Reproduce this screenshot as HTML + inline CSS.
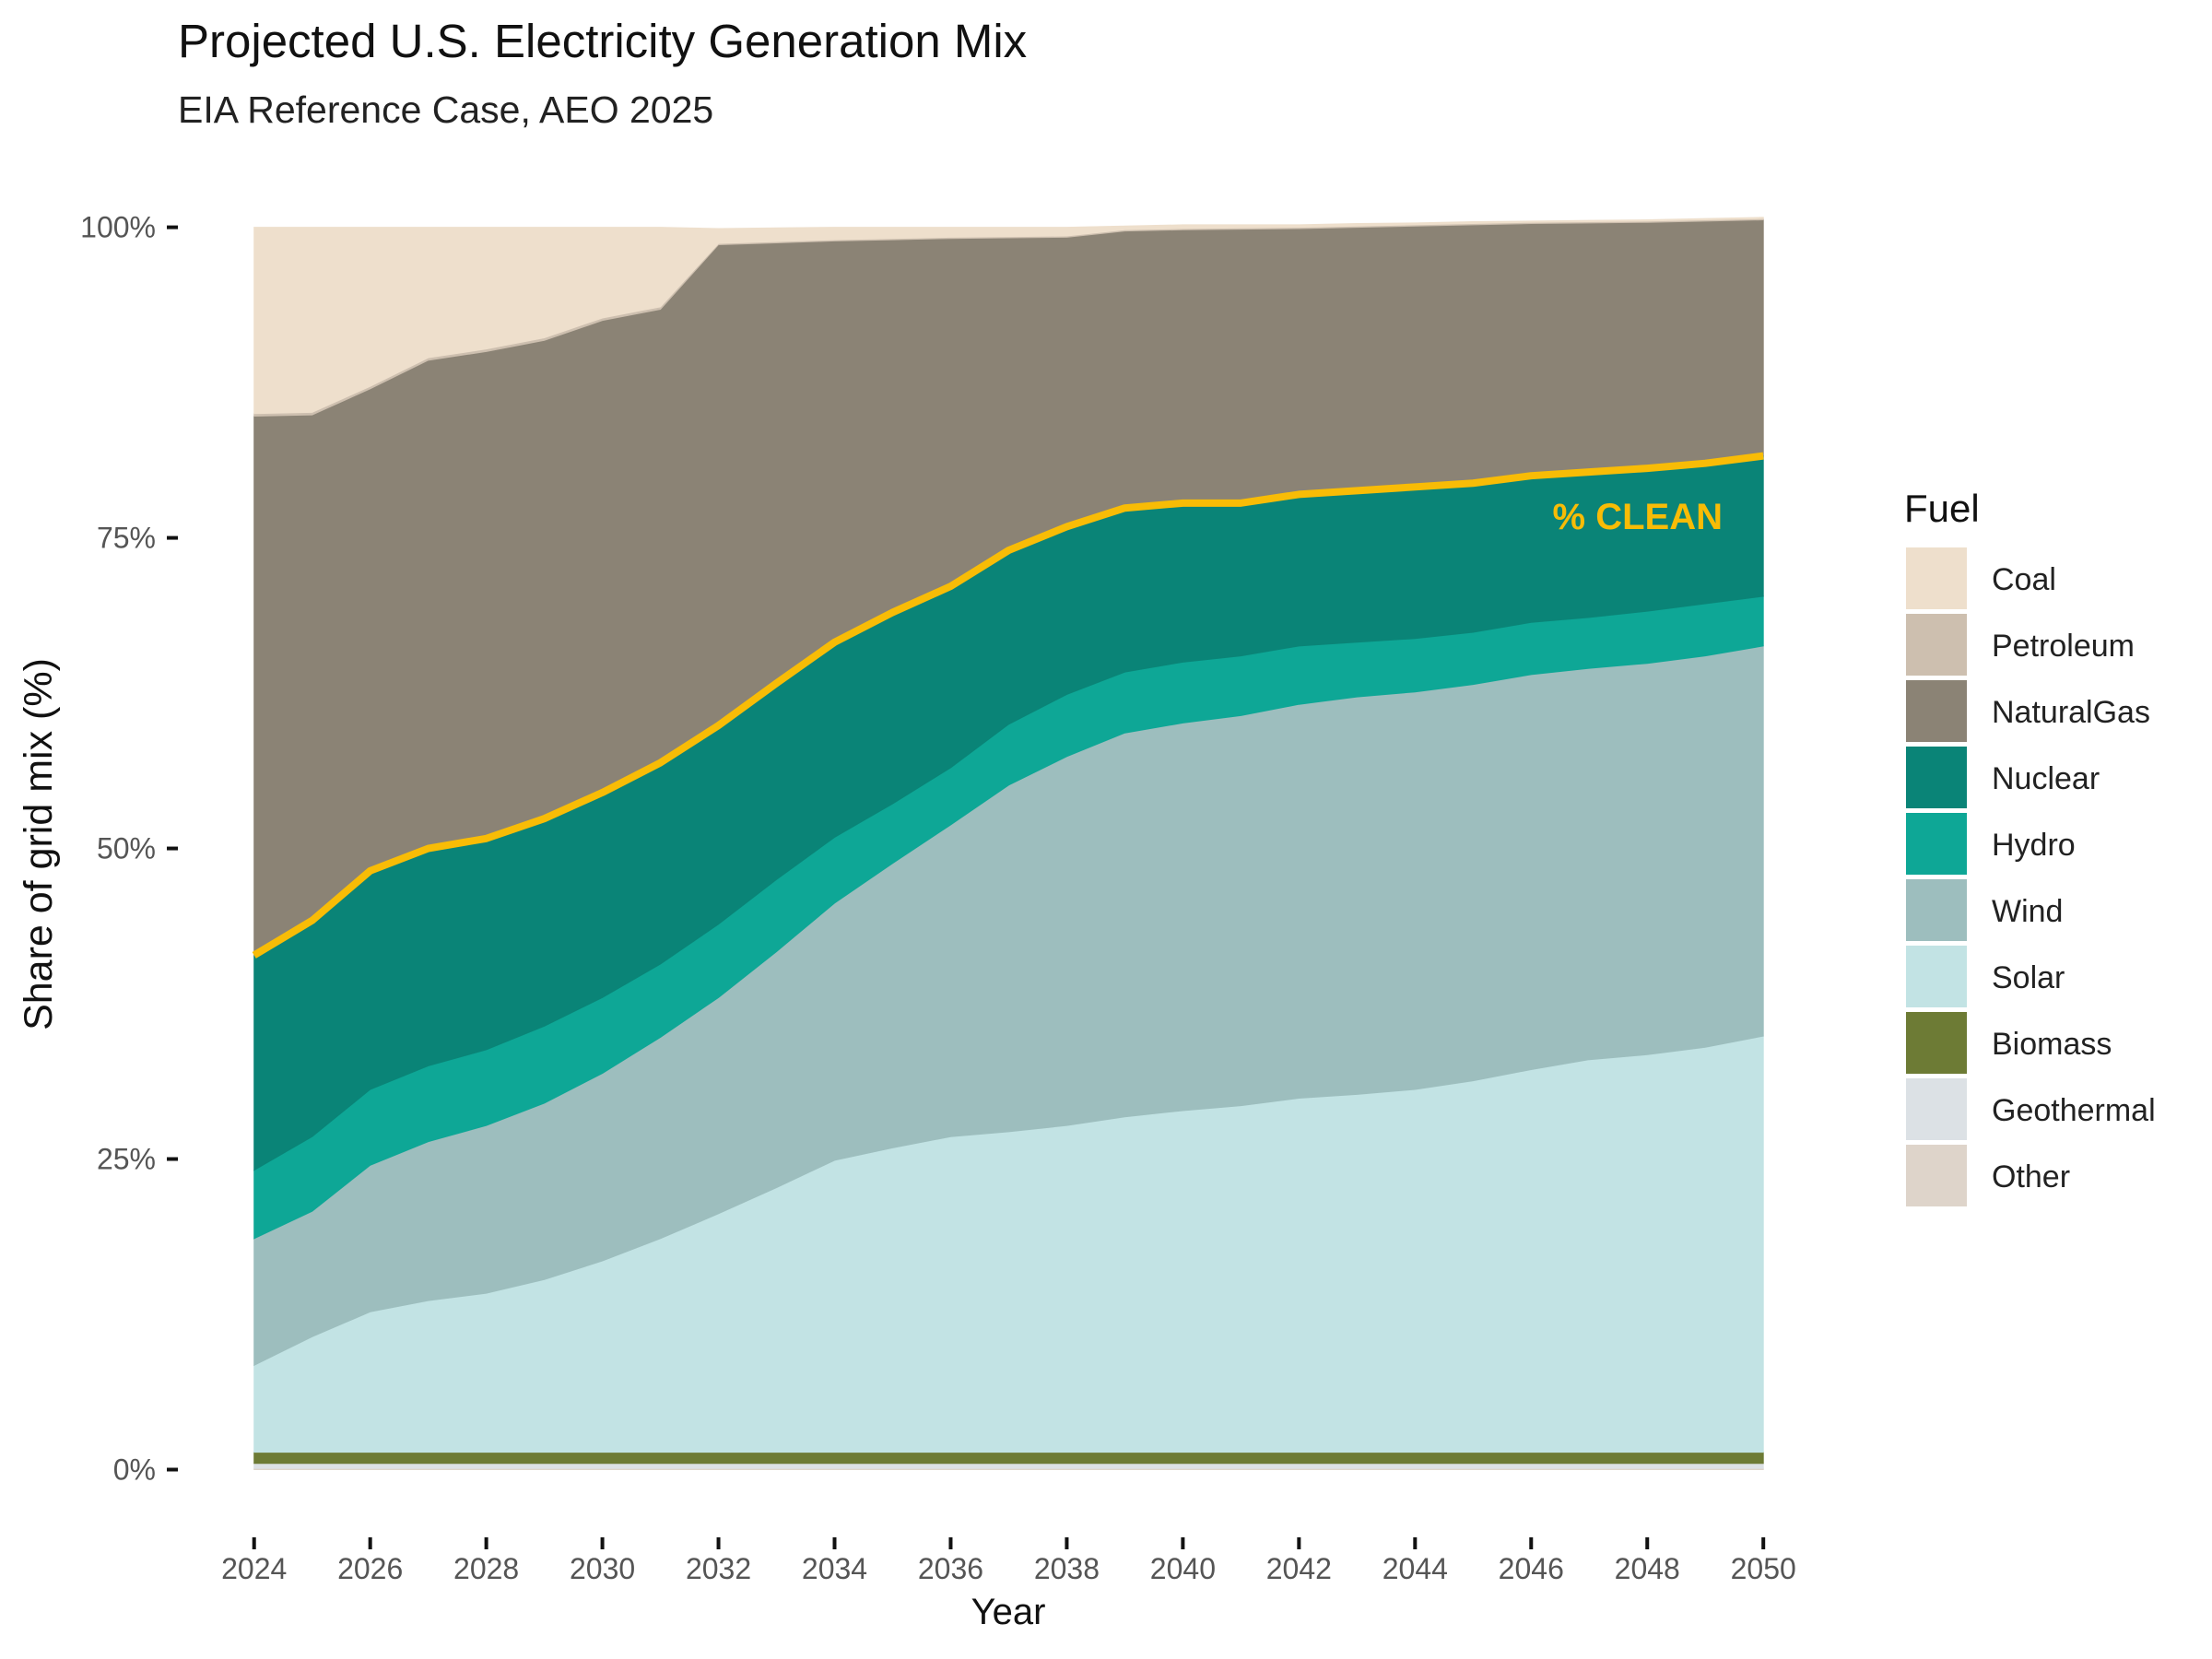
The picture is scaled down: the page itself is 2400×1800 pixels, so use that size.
<!DOCTYPE html>
<html><head><meta charset="utf-8"><style>
body{margin:0;background:#fff;}
svg{display:block;font-family:"Liberation Sans",sans-serif;}
</style></head><body>
<svg id="chart" width="2400" height="1800" viewBox="0 0 2400 1800" xmlns="http://www.w3.org/2000/svg">
<text x="193" y="62" font-size="51" fill="#111">Projected U.S. Electricity Generation Mix</text>
<text x="193" y="133" font-size="41" fill="#222">EIA Reference Case, AEO 2025</text>
<g id="areas"></g>
<g id="axes"></g>
<g id="legend"></g>
<text transform="translate(56,916) rotate(-90)" text-anchor="middle" font-size="43" fill="#111">Share of grid mix (%)</text>
<text x="1094" y="1762" text-anchor="middle" font-size="40" fill="#111">Year</text>
</svg>
<script>
const years=[2024,2025,2026,2027,2028,2029,2030,2031,2032,2033,2034,2035,2036,2037,2038,2039,2040,2041,2042,2043,2044,2045,2046,2047,2048,2049,2050];
const fuels=["Other","Geothermal","Biomass","Solar","Wind","Hydro","Nuclear","NaturalGas","Petroleum","Coal"];
const other=[0.1,0.1,0.1,0.1,0.1,0.1,0.1,0.1,0.1,0.1,0.1,0.1,0.1,0.1,0.1,0.1,0.1,0.1,0.1,0.1,0.1,0.1,0.1,0.1,0.1,0.1,0.1];
const geothermal=[0.4,0.4,0.4,0.4,0.4,0.4,0.4,0.4,0.4,0.4,0.4,0.4,0.4,0.4,0.4,0.4,0.4,0.4,0.4,0.4,0.4,0.4,0.4,0.4,0.4,0.4,0.4];
const biomass=[0.9,0.9,0.9,0.9,0.9,0.9,0.9,0.9,0.9,0.9,0.9,0.9,0.9,0.9,0.9,0.9,0.9,0.9,0.9,0.9,0.9,0.9,0.9,0.9,0.9,0.9,0.9];
const solar=[7.0,9.3,11.3,12.2,12.8,13.9,15.4,17.2,19.2,21.3,23.5,24.5,25.4,25.8,26.3,27.0,27.5,27.9,28.5,28.8,29.2,29.9,30.8,31.6,32.0,32.6,33.5];
const wind=[10.2,10.1,11.8,12.8,13.5,14.2,15.1,16.2,17.4,19.0,20.7,22.9,25.1,27.9,29.7,30.9,31.2,31.4,31.7,32.0,32.0,31.9,31.8,31.5,31.5,31.5,31.4];
const hydro=[5.5,6.0,6.1,6.1,6.1,6.2,6.1,5.9,5.9,5.8,5.3,4.8,4.6,4.9,5.0,4.9,4.9,4.8,4.7,4.4,4.3,4.2,4.2,4.1,4.2,4.2,4.0];
const nuclear=[17.3,17.4,17.6,17.5,17.0,16.7,16.5,16.2,16.0,15.8,15.7,15.4,14.6,14.0,13.5,13.2,12.8,12.3,12.2,12.2,12.2,12.0,11.8,11.7,11.5,11.3,11.3];
const naturalGas=[43.4,40.7,38.8,39.3,39.2,38.5,38.0,36.5,38.7,35.45,32.3,30.0,28.0,25.15,23.3,22.3,22.0,22.05,21.4,21.2,21.0,20.8,20.3,20.05,19.8,19.5,19.0];
const petroleum=[0.2,0.2,0.2,0.2,0.2,0.2,0.2,0.2,0.1,0.1,0.1,0.1,0.1,0.1,0.1,0.1,0.1,0.1,0.1,0.1,0.1,0.1,0.1,0.1,0.1,0.1,0.1];
const coal=[15.0,14.9,12.8,10.5,9.8,8.9,7.3,6.4,1.2,1.1,1.0,0.9,0.8,0.75,0.7,0.3,0.3,0.25,0.2,0.2,0.15,0.15,0.1,0.1,0.1,0.1,0.1];
const yTicks=[0,25,50,75,100];
const yTickLabels=["0%","25%","50%","75%","100%"];
const xTicks=[2024,2026,2028,2030,2032,2034,2036,2038,2040,2042,2044,2046,2048,2050];

const series=[other,geothermal,biomass,solar,wind,hydro,nuclear,naturalGas,petroleum,coal];
const colors=["#DED4CA","#DCE1E5","#6D7B35","#C2E3E4","#9DBEBE","#0EA796","#0A8477","#8B8375","#CDBFAF","#EEDFCC"];
const NS="http://www.w3.org/2000/svg";
const X0=275.7,X1=1913.2,Y0=1594.5,Y100=246.6;
const xs=v=>X0+(v-years[0])/(years[years.length-1]-years[0])*(X1-X0);
const ys=v=>Y0-v/100*(Y0-Y100);
function mk(tag,attrs,parent){const e=document.createElementNS(NS,tag);for(const k in attrs)e.setAttribute(k,attrs[k]);parent.appendChild(e);return e;}
const areas=document.getElementById('areas');
let base=years.map(()=>0);
const tops=[];
series.forEach((s,i)=>{
  const top=base.map((b,j)=>b+s[j]);
  let d="M"+years.map((y,j)=>xs(y)+","+ys(top[j])).join("L");
  for(let j=years.length-1;j>=0;j--)d+="L"+xs(years[j])+","+ys(base[j]);
  const p=mk('path',{d:d+"Z",fill:colors[i],stroke:colors[i],'stroke-width':1},areas);
  
  
  tops.push(top);base=top;
});
const clean=tops[6];
const cl=mk('polyline',{points:years.map((y,j)=>xs(y)+","+ys(clean[j])).join(" "),fill:"none",stroke:"#F8BC06","stroke-width":8,"stroke-linejoin":"round"},areas);


const ct=mk('text',{x:1869,y:574,'text-anchor':'end','font-size':40,'font-weight':'bold',fill:'#F8BC06'},areas);
ct.textContent="% CLEAN";



const axes=document.getElementById('axes');
yTicks.forEach((t,i)=>{
  const l=mk('line',{x1:181,x2:193,y1:ys(t),y2:ys(t),stroke:"#111","stroke-width":4},axes);
  
  
  const tx=mk('text',{x:169,y:ys(t)+11,'text-anchor':'end','font-size':32,fill:'#555'},axes);
  tx.textContent=yTickLabels[i];
  
  
});
xTicks.forEach(t=>{
  const l=mk('line',{x1:xs(t),x2:xs(t),y1:1668,y2:1681,stroke:"#111","stroke-width":4},axes);
  
  
  const tx=mk('text',{x:xs(t),y:1713,'text-anchor':'middle','font-size':32,fill:'#555'},axes);
  tx.textContent=t;
  
  
});

const lg=document.getElementById('legend');
const lt=mk('text',{x:2066,y:566,'font-size':42,fill:'#111'},lg);
lt.textContent="Fuel";


const order=[9,8,7,6,5,4,3,2,1,0];
order.forEach((si,k)=>{
  const y=594+k*72;
  const r=mk('rect',{x:2068,y:y,width:66,height:67,fill:colors[si]},lg);
  
  
  const tx=mk('text',{x:2161,y:y+46,'font-size':34,fill:'#222'},lg);
  tx.textContent=fuels[si];
  
  
});
</script>
</body></html>
